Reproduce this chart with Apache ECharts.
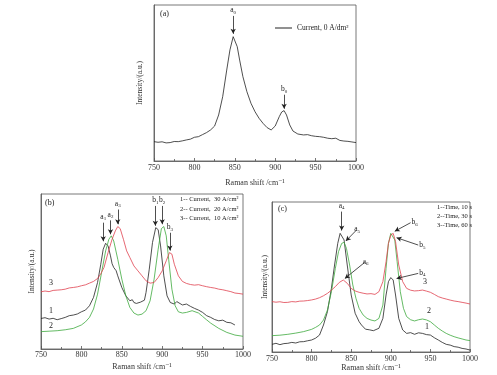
<!DOCTYPE html>
<html>
<head>
<meta charset="utf-8">
<script src="https://cdn.jsdelivr.net/npm/echarts/dist/echarts.min.js"></script>
<style>
html, body { margin: 0; padding: 0; background: #fff; }
#main { width: 497px; height: 375px; }
</style>
</head>
<body>
<div id="main"></div>
<script>
// spectra: [Raman shift, intensity (a.u., 0-100 of plot height)]
const specA = [[750,12.4],[755,12.0],[760,12.3],[765,11.6],[770,11.8],[775,12.5],[780,12.4],[785,12.9],[790,13.5],[795,14.0],[800,15.2],[805,15.6],[810,16.9],[815,18.2],[820,19.9],[825,22.4],[830,29.5],[835,41.2],[840,58.3],[844,71.2],[848,79.7],[850,79.3],[853,73.3],[856,64.7],[860,54.1],[865,44.4],[870,37.0],[875,31.6],[880,27.4],[885,24.1],[890,21.4],[895,19.9],[900,22.4],[905,28.4],[908,31.4],[911,32.3],[914,29.5],[918,23.1],[922,19.2],[928,17.3],[935,16.7],[940,16.9],[945,16.2],[950,15.8],[955,15.6],[960,15.2],[965,14.6],[970,14.3],[975,14.6],[980,13.2],[985,12.8],[990,12.6],[995,12.2],[1000,11.8]];

// (b) 1: 30 A/cm2, 2: 20 A/cm2, 3: 10 A/cm2
const specB1 = [[750,19.7],[755,20.2],[760,19.3],[765,19.8],[770,18.9],[775,19.6],[780,20.4],[785,21.5],[790,21.9],[795,22.6],[800,24.0],[805,25.1],[810,27.9],[815,33.3],[820,42.9],[824,54.7],[827,64.4],[830,68.2],[833,66.5],[836,60.1],[838,55.0],[840,52.6],[843,50.5],[845,47.2],[850,39.7],[855,34.3],[860,31.1],[863,31.8],[865,30.0],[868,29.4],[870,29.0],[873,30.2],[875,30.0],[878,31.5],[880,36.5],[884,51.5],[888,68.7],[892,78.3],[895,77.0],[898,66.5],[902,47.2],[906,34.3],[910,30.0],[915,29.0],[918,30.6],[920,29.6],[925,28.4],[930,29.0],[935,27.5],[940,26.2],[945,25.1],[950,23.6],[955,21.5],[960,20.4],[965,19.0],[970,18.2],[975,18.6],[980,17.2],[985,16.9],[990,15.5]];
const specB2 = [[750,11.2],[760,11.5],[770,11.8],[780,12.4],[790,13.3],[800,15.5],[805,17.5],[810,20.4],[815,25.8],[820,35.4],[825,49.4],[830,63.3],[834,70.8],[837,73.0],[840,69.7],[845,57.9],[850,45.1],[855,34.3],[860,26.8],[865,23.2],[870,21.9],[875,22.5],[880,24.7],[885,31.1],[890,45.1],[895,64.4],[899,77.7],[902,79.0],[905,73.0],[908,57.9],[912,38.6],[916,27.9],[920,24.0],[925,23.2],[930,23.6],[937,24.7],[945,23.2],[950,21.0],[955,18.8],[960,16.7],[970,13.3],[980,10.7],[990,9.0],[1000,8.2]];
const specB3 = [[750,36.9],[755,37.4],[760,37.0],[765,37.8],[770,38.0],[775,38.2],[780,38.6],[785,39.4],[790,39.7],[795,40.1],[800,40.8],[805,41.4],[810,42.5],[815,43.6],[820,45.5],[824,48.5],[828,52.6],[833,62.2],[838,70.8],[842,76.2],[845,79.0],[848,77.7],[852,70.8],[856,63.3],[860,59.0],[865,53.6],[870,50.4],[875,47.2],[880,44.0],[885,42.5],[890,42.9],[895,46.1],[900,50.4],[905,56.9],[909,62.2],[912,61.2],[915,54.7],[920,47.2],[925,43.6],[930,42.3],[935,41.6],[940,41.2],[945,41.5],[950,40.8],[955,40.2],[960,39.7],[965,39.3],[970,38.6],[975,38.2],[980,37.6],[985,37.0],[990,36.1],[995,35.8],[1000,35.4]];

// (c) 1: 10 s, 2: 30 s, 3: 60 s
const specC1 = [[750,5.1],[755,5.8],[760,4.9],[765,5.6],[770,5.8],[775,6.4],[780,6.0],[785,6.8],[790,6.9],[795,7.5],[800,8.0],[805,9.2],[810,11.3],[815,18.0],[820,26.9],[825,42.4],[829,58.0],[833,72.4],[836,79.1],[838,80.2],[841,74.7],[845,58.0],[850,38.0],[855,25.8],[860,20.2],[863,18.0],[865,16.9],[868,15.2],[870,15.8],[873,14.8],[875,15.3],[878,14.2],[880,14.7],[885,15.8],[890,22.4],[894,38.0],[897,46.9],[900,49.6],[903,48.0],[906,38.0],[910,22.4],[915,14.7],[920,12.4],[925,12.9],[930,11.8],[935,12.8],[940,12.4],[945,11.6],[950,11.3],[955,9.5],[960,8.0],[965,6.4],[970,5.1],[975,4.6],[980,3.6],[985,3.2],[990,2.4],[995,2.0],[1000,1.3]];
const specC2 = [[750,10.9],[760,11.2],[770,11.8],[780,12.6],[790,13.6],[800,15.1],[805,16.4],[810,18.0],[815,21.3],[820,28.0],[825,40.2],[830,55.8],[834,66.9],[838,72.4],[841,73.1],[844,69.1],[848,58.0],[852,44.7],[856,35.8],[860,29.1],[865,24.7],[870,22.4],[875,21.3],[880,20.7],[885,22.4],[890,31.3],[894,55.8],[897,72.4],[900,79.1],[902,79.8],[905,74.7],[908,60.2],[912,40.2],[916,29.1],[920,23.6],[925,21.5],[930,20.7],[935,21.5],[940,22.0],[945,21.4],[950,20.2],[955,18.0],[960,15.8],[965,14.0],[970,12.4],[975,11.2],[980,10.2],[985,9.4],[990,8.7],[995,8.0],[1000,7.6]];
const specC3 = [[750,33.6],[755,33.2],[760,33.5],[765,33.0],[770,33.1],[775,33.6],[780,33.4],[785,33.9],[790,34.0],[795,34.3],[800,34.7],[805,35.3],[810,36.2],[815,37.5],[820,39.1],[825,41.2],[830,43.6],[835,46.4],[840,48.0],[845,45.8],[850,42.4],[855,40.7],[860,39.8],[865,39.2],[870,38.7],[875,38.9],[880,38.4],[885,40.2],[890,46.9],[894,60.2],[897,72.4],[900,78.0],[903,79.1],[906,73.6],[910,58.0],[915,46.9],[920,42.4],[925,41.2],[930,40.7],[935,40.9],[940,41.3],[945,40.6],[950,39.8],[955,38.4],[960,36.9],[965,36.0],[970,35.3],[975,34.6],[980,34.0],[985,33.6],[990,33.1],[995,32.6],[1000,32.0]];

// peak arrows: [label, x from, y from, x to, y to]
const arrowsA = [['a0',848,93,848,81.5],['b0',911,42.5,911,33.5]];
const arrowsB = [['a1',827,81.5,827,69.5],['a2',836,83,836,74],['a3',845,90,845,80.5],
                 ['b1',891.5,92.3,891.5,79.5],['b2',900,92.3,900,80.5],['b3',909.5,75,909.5,63.5]];
const arrowsC = [['a4',838,93.6,838,81],['a5',856.7,81.3,843.2,74],['a6',867.2,59.8,842,49],
                 ['b6',925,86.2,905,80.5],['b5',934.6,71.3,907.3,76.2],['b4',934.6,52.4,907.3,49]];

const xTicks = [750, 800, 850, 900, 950, 1000];

const FONT = '"Liberation Serif", "DejaVu Serif", serif';
const BLACK = '#222';
const GREEN = '#3daa3d';
const RED = '#e0414f';

const chart = echarts.init(document.getElementById('main'));

function arrows(list) {
  return {
    silent: true,
    symbol: ['none', 'arrow'],
    symbolSize: [4, 5],
    lineStyle: { color: BLACK, width: 0.8, type: 'solid' },
    label: {
      show: true, position: 'start', distance: 1,
      formatter: p => p.name[0] + '{s|' + p.name.slice(1) + '}',
      fontFamily: FONT, fontSize: 7.5, color: BLACK,
      rich: { s: { fontFamily: FONT, fontSize: 5, color: BLACK, padding: [4, 0, 0, 0] } }
    },
    data: list.map(a => [{ name: a[0], coord: [a[1], a[2]] }, { name: a[0], coord: [a[3], a[4]] }])
  };
}

function xAxis(i, gap, margin) {
  return {
    type: 'value', gridIndex: i, min: xTicks[0], max: xTicks[xTicks.length - 1], interval: 50,
    name: 'Raman shift /cm⁻¹', nameLocation: 'middle', nameGap: gap,
    nameTextStyle: { fontFamily: FONT, fontSize: 8, color: '#333' },
    axisLine: { lineStyle: { color: '#555', width: 0.8 } },
    axisTick: { inside: true, length: 3, lineStyle: { color: '#555', width: 0.8 } },
    minorTick: { show: true, splitNumber: 2, length: 2, lineStyle: { color: '#555', width: 0.8 } },
    axisLabel: { margin: margin, fontFamily: FONT, fontSize: 8, color: '#333', formatter: v => String(v) },
    splitLine: { show: false }
  };
}

function yAxis(i, gap) {
  return {
    type: 'value', gridIndex: i, min: 0, max: 100,
    name: 'Intensity/(a.u.)', nameLocation: 'middle', nameGap: gap, nameRotate: 90,
    nameTextStyle: { fontFamily: FONT, fontSize: 7.5, color: '#333' },
    axisLine: { show: true, lineStyle: { color: '#555', width: 0.8 } },
    axisTick: { show: false },
    axisLabel: { show: false },
    splitLine: { show: false }
  };
}

function line(name, data, idx, color, mark) {
  const s = {
    name: name, type: 'line', xAxisIndex: idx, yAxisIndex: idx, data: data,
    showSymbol: false, symbol: 'none', smooth: false,
    lineStyle: { color: color, width: 0.8 }, itemStyle: { color: color }
  };
  if (mark) s.markLine = mark;
  return s;
}

function txt(x, y, text, size, align) {
  return { type: 'text', left: x, top: y,
    style: { text: text, font: size + 'px ' + FONT, fill: BLACK, textAlign: align || 'left' } };
}

const gridBox = { show: true, borderColor: '#555', borderWidth: 0.8, backgroundColor: 'transparent' };

const option = {
  animation: false,
  backgroundColor: '#fff',
  grid: [
    Object.assign({ left: 154, top: 5, width: 202, height: 156 }, gridBox),
    Object.assign({ left: 41, top: 194, width: 202, height: 155 }, gridBox),
    Object.assign({ left: 272, top: 202, width: 198, height: 150 }, gridBox)
  ],
  xAxis: [xAxis(0, 18, 3), xAxis(1, 14, 2), xAxis(2, 11, 3)],
  yAxis: [yAxis(0, 10), yAxis(1, 5), yAxis(2, 3)],
  legend: {
    data: ['Current, 0 A/dm²'], left: 270, top: 19, icon: 'rect',
    itemWidth: 17, itemHeight: 1, itemGap: 4,
    textStyle: { fontFamily: FONT, fontSize: 7.5, color: BLACK }
  },
  series: [
    line('Current, 0 A/dm²', specA, 0, BLACK, arrows(arrowsA)),
    line('1', specB1, 1, BLACK, arrows(arrowsB)),
    line('2', specB2, 1, GREEN),
    line('3', specB3, 1, RED),
    line('c1', specC1, 2, BLACK, arrows(arrowsC)),
    line('c2', specC2, 2, GREEN),
    line('c3', specC3, 2, RED)
  ],
  graphic: [
    txt(160, 10, '(a)', 8),
    txt(45, 199, '(b)', 8),
    txt(278, 205, '(c)', 8),
    txt(180, 196, '1-- Current,  30 A/cm²', 6.5),
    txt(180, 205.5, '2-- Current,  20 A/cm²', 6.5),
    txt(180, 215, '3-- Current,  10 A/cm²', 6.5),
    txt(437, 203.5, '1--Time, 10 s', 6.5),
    txt(437, 212.5, '2--Time, 30 s', 6.5),
    txt(437, 221.5, '3--Time, 60 s', 6.5),
    txt(49, 279, '3', 8),
    txt(49, 307, '1', 8),
    txt(49, 322, '2', 8),
    txt(423, 278, '3', 8),
    txt(427, 306.5, '2', 8),
    txt(425, 323, '1', 8)
  ]
};

chart.setOption(option);
</script>
</body>
</html>
